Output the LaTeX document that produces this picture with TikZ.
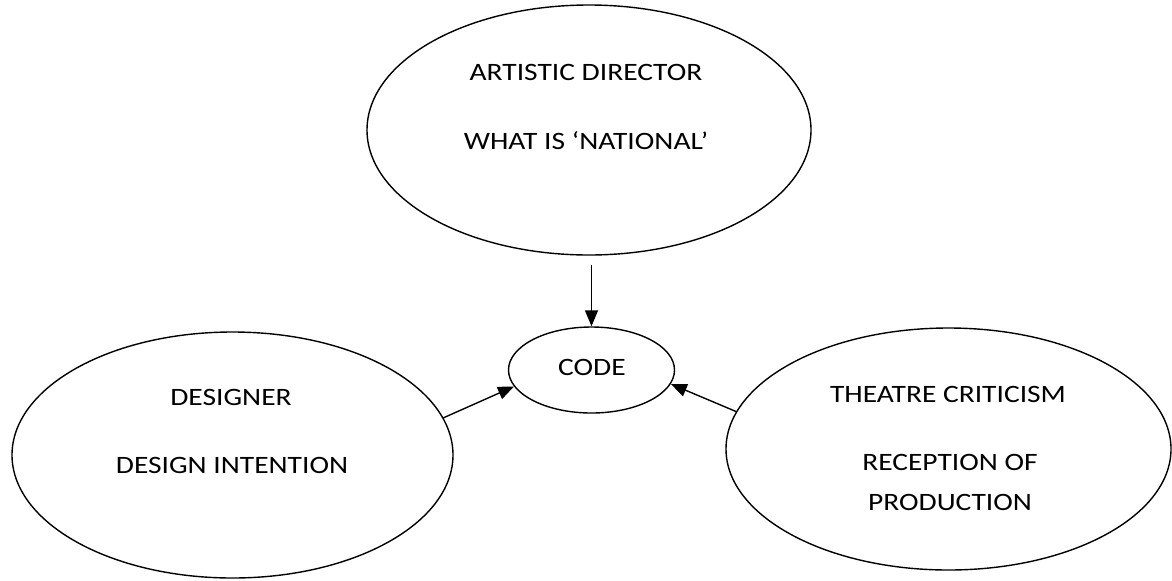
\documentclass[tikz,border=0pt]{standalone}
\usepackage{fontspec}
\setmainfont{Carlito}[FakeStretch=1.18]
\usetikzlibrary{shapes.geometric,arrows.meta}
\begin{document}
\begin{tikzpicture}[x=0.5pt,y=-0.5pt,
  oval/.style={draw,ellipse,line width=0.7pt,inner sep=0pt,minimum width=#1},
  lbl/.style={anchor=base,inner sep=0pt,font=\fontsize{12.5}{15}\selectfont},
  arr/.style={line width=0.7pt,-{Triangle[length=8pt,width=6.5pt]}}]
\useasboundingbox (0,0) rectangle (1172,580);
\node[oval=222pt,minimum height=125pt] (top) at (589,130) {};
\node[oval=83pt,minimum height=43pt] (code) at (591.5,370) {};
\node[oval=220.5pt,minimum height=123pt] (left) at (232.5,455) {};
\node[oval=222.5pt,minimum height=121pt] (right) at (948.5,449) {};
\node[lbl] (t1) at (586,80) {ARTISTIC DIRECTOR};
\node[lbl] (t2) at (586,149) {WHAT IS ‘NATIONAL’};
\node[lbl] (c1) at (592,375) {CODE};
\node[lbl] (l1) at (231,405) {DESIGNER};
\node[lbl] (l2) at (232,473) {DESIGN INTENTION};
\node[lbl] (r1) at (948,402) {THEATRE CRITICISM};
\node[lbl] (r2) at (950,470) {RECEPTION OF};
\node[lbl] (r3) at (950,510) {PRODUCTION};
\draw[arr] ([yshift=-4.5pt]top.south -| code.north) -- (code.north);
\draw[arr] (left.10) -- (code.192);
\draw[arr] (right.170) -- (code.350);
\end{tikzpicture}
\end{document}
